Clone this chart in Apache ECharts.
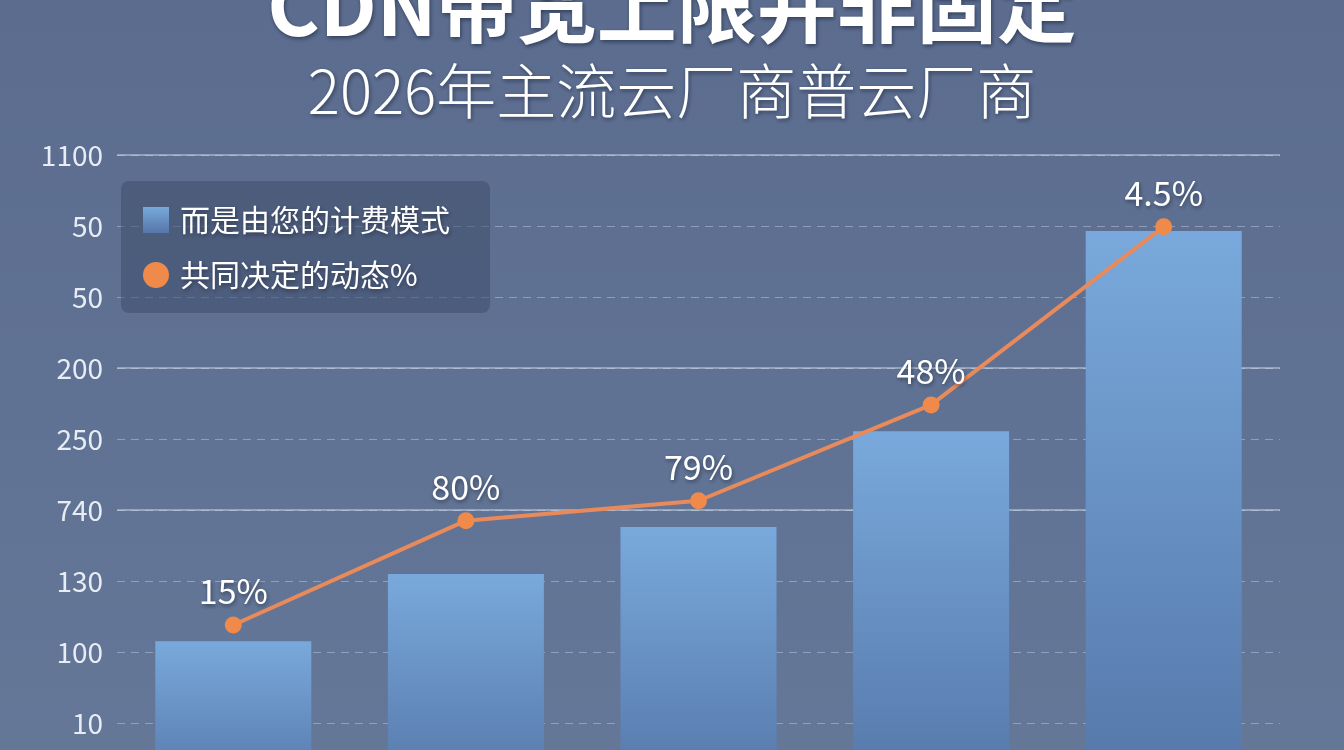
<!DOCTYPE html>
<html>
<head>
<meta charset="utf-8">
<script src="https://cdn.jsdelivr.net/npm/echarts@6/dist/echarts.min.js"></script>
<style>
  html, body { margin: 0; padding: 0; overflow: hidden; }
  /* taller than the window: the bars run off the bottom edge like in the picture */
  #chart { width: 1344px; height: 800px; }
</style>
</head>
<body>
<div id="chart"></div>
<script>
// categories (no visible x labels in the picture)
var categories = ['A', 'B', 'C', 'D', 'E'];
// y tick labels from bottom (value 1) to top (value 9)
var tickLabels = ['10', '100', '130', '740', '250', '200', '50', '50', '1100'];
// ticks drawn as solid lines, others dashed
var solidTicks = [4, 6, 9];
// bar heights and line points in axis units
var barValues = [2.15, 3.1, 3.76, 5.11, 7.93];
var lineValues = [2.38, 3.85, 4.13, 5.48, 7.99];
var lineLabels = ['15%', '80%', '79%', '48%', '4.5%'];

var barName = '而是由您的计费模式';
var lineName = '共同决定的动态%';

var chart = echarts.init(document.getElementById('chart'));
var font = '"Noto Sans CJK SC", "Noto Sans", sans-serif';
var shadow = { textShadowColor: 'rgba(20,30,50,0.6)', textShadowBlur: 4, textShadowOffsetX: 1, textShadowOffsetY: 2 };

var option = {
  backgroundColor: {
    type: 'linear', x: 0, y: 0, x2: 0, y2: 1,
    colorStops: [
      { offset: 0, color: '#5b6c8f' },
      { offset: 1, color: '#657898' }
    ]
  },
  title: [{
    text: 'CDN带宽上限并非固定',
    left: 'center',
    top: -39,
    textStyle: Object.assign({ color: '#ffffff', fontSize: 80, fontWeight: 'bold', fontFamily: font }, shadow)
  }, {
    text: '2026年主流云厂商普云厂商',
    left: 'center',
    top: 56,
    textStyle: Object.assign({ color: '#ffffff', fontSize: 60, fontWeight: 300, fontFamily: font }, shadow)
  }],
  legend: {
    orient: 'vertical',
    left: 121,
    top: 181,
    padding: [24, 40, 23, 22],
    itemGap: 25,
    itemWidth: 26,
    itemHeight: 26,
    backgroundColor: 'rgba(62,76,106,0.55)',
    borderRadius: 8,
    textStyle: Object.assign({ color: '#ffffff', fontSize: 30, fontFamily: font, padding: [0, 0, 0, 6] }, shadow),
    data: [
      { name: barName, icon: 'rect' },
      { name: lineName, icon: 'circle' }
    ]
  },
  grid: { left: 117, right: 64, top: 155, bottom: 6, containLabel: false },
  xAxis: {
    type: 'category',
    data: categories,
    axisLine: { show: false },
    axisTick: { show: false },
    axisLabel: { show: false }
  },
  yAxis: {
    type: 'value',
    min: 0,
    max: 9,
    interval: 1,
    axisLine: { show: false },
    axisTick: { show: false },
    axisLabel: {
      margin: 14,
      color: '#e8edf5',
      fontSize: 28,
      fontFamily: font,
      formatter: function (v) { return v >= 1 ? tickLabels[v - 1] : ''; }
    },
    splitLine: {
      lineStyle: { color: 'rgba(200,212,232,0.45)', type: [8, 6], width: 1 }
    }
  },
  series: [{
    name: barName,
    type: 'bar',
    data: barValues,
    barWidth: 156,
    itemStyle: {
      color: {
        type: 'linear', x: 0, y: 0, x2: 0, y2: 1,
        colorStops: [
          { offset: 0, color: '#79a9dc' },
          { offset: 1, color: '#5576a8' }
        ]
      }
    },
    markLine: {
      z: 1,
      silent: true,
      symbol: 'none',
      label: { show: false },
      lineStyle: { color: 'rgba(215,225,240,0.6)', type: 'solid', width: 1.5 },
      data: solidTicks.map(function (v) { return { yAxis: v }; })
    }
  }, {
    name: lineName,
    type: 'line',
    data: lineValues,
    symbol: 'circle',
    symbolSize: 17,
    z: 5,
    lineStyle: { color: '#e98a5a', width: 4 },
    itemStyle: { color: '#f08a4a' },
    label: Object.assign({
      show: true,
      position: 'top',
      distance: 8,
      color: '#ffffff',
      fontSize: 34,
      fontFamily: font,
      formatter: function (p) { return lineLabels[p.dataIndex]; }
    }, shadow)
  }]
};

chart.setOption(option);
</script>
</body>
</html>
